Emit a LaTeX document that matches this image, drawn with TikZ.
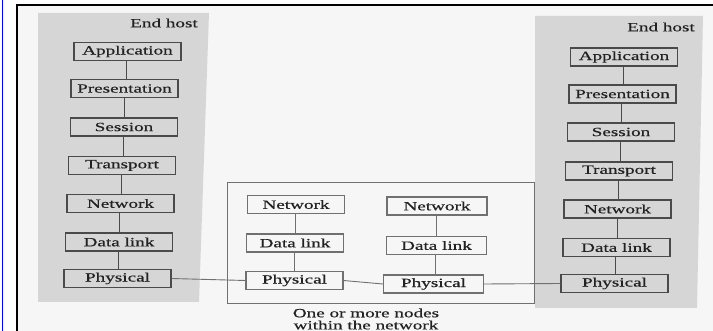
\documentclass[tikz,border=0pt]{standalone}
\usepackage{fontspec}
\usetikzlibrary{calc}
\setmainfont{Liberation Serif}[FakeStretch=1.52, FakeBold=0.5]
\definecolor{paper}{HTML}{F6F6F6}
\definecolor{hostgray}{HTML}{D6D6D6}
\definecolor{ink}{HTML}{222222}
\definecolor{edge}{HTML}{4A4A4A}
\definecolor{softedge}{HTML}{707070}
\tikzset{
  layer/.style={draw=edge, line width=1.1pt, fill=hostgray, text=ink,
    minimum width=107pt, minimum height=18pt, inner sep=0pt,
    font=\fontsize{12.6}{12.6}\selectfont},
  relay/.style={layer, draw=softedge, fill=paper, minimum width=97pt},
  link/.style={draw=edge, line width=0.9pt},
  softlink/.style={draw=softedge, line width=0.9pt},
  label/.style={text=ink, inner sep=0pt, font=\fontsize{12.6}{12.6}\selectfont}
}
\begin{document}
\begin{tikzpicture}[x=1pt, y=-1pt]
  \useasboundingbox (0,0) rectangle (713,331);
  \fill[white] (0,0) rectangle (713,331);
  % page area and frame
  \fill[paper] (17,5) rectangle (713,331);
  \draw[blue, line width=1.8pt] (2.5,0) -- (2.5,331);
  \draw[black, line width=1.6pt] (17,331) -- (17,5) -- (713,5);

  % shaded host panels
  \fill[hostgray] (38,13) -- (209,13) -- (199,302) -- (38,302) -- cycle;
  \fill[hostgray] (535,16) -- (703,16) -- (697,308) -- (535,308) -- cycle;

  % network container
  \draw[softedge, line width=0.9pt] (227,182) rectangle (534,303);

  % left end host
  \node[label, anchor=east] (lhost) at (198,23) {End host};
  \node[layer] (la) at (127.5,51.5) {Application};
  \node[layer] (lp) at (124.5,88.5) {Presentation};
  \node[layer] (ls) at (124,127) {Session};
  \node[layer] (lt) at (122,165.5) {Transport};
  \node[layer] (ln) at (120.5,203.5) {Network};
  \node[layer] (ld) at (119,242) {Data link};
  \node[layer] (lph) at (117.5,278.5) {Physical};

  % right end host
  \node[label, anchor=east] (rhost) at (695,27) {End host};
  \node[layer] (ra) at (624,57) {Application};
  \node[layer] (rp) at (622.5,94) {Presentation};
  \node[layer] (rs) at (621,132) {Session};
  \node[layer] (rt) at (619,171) {Transport};
  \node[layer] (rn) at (617.5,209) {Network};
  \node[layer] (rd) at (616.5,247.5) {Data link};
  \node[layer] (rph) at (614.5,283.5) {Physical};

  % intermediate nodes
  \node[relay] (an) at (296,204.5) {Network};
  \node[relay] (ad) at (295,243) {Data link};
  \node[relay] (aph) at (294.5,280.5) {Physical};
  \node[relay, minimum width=100pt] (bn) at (437,206) {Network};
  \node[relay, minimum width=100pt] (bd) at (436.5,245.5) {Data link};
  \node[relay, minimum width=100pt] (bph) at (433.5,284) {Physical};

  \node[label, align=center] (caption) at (366,319)
    {One or more nodes\\[-0.5pt]within the network};

  % stack connectors, drawn plumb between neighbouring layers
  \foreach \a/\b/\s in {la/lp/link, lp/ls/link, ls/lt/link, lt/ln/link,
                        ln/ld/link, ld/lph/link,
                        ra/rp/link, rp/rs/link, rs/rt/link, rt/rn/link,
                        rn/rd/link, rd/rph/link,
                        an/ad/softlink, ad/aph/softlink,
                        bn/bd/softlink, bd/bph/softlink} {
    \coordinate (mid) at ($(\a.south)!0.5!(\b.north)$);
    \draw[\s] (mid |- \a.south) -- (mid |- \b.north);
  }

  % physical links
  \draw[softlink] (lph.east) -- (aph.west);
  \draw[softlink] (aph.east) -- (bph.west);
  \draw[softlink] (bph.east) -- (rph.west);
\end{tikzpicture}
\end{document}
